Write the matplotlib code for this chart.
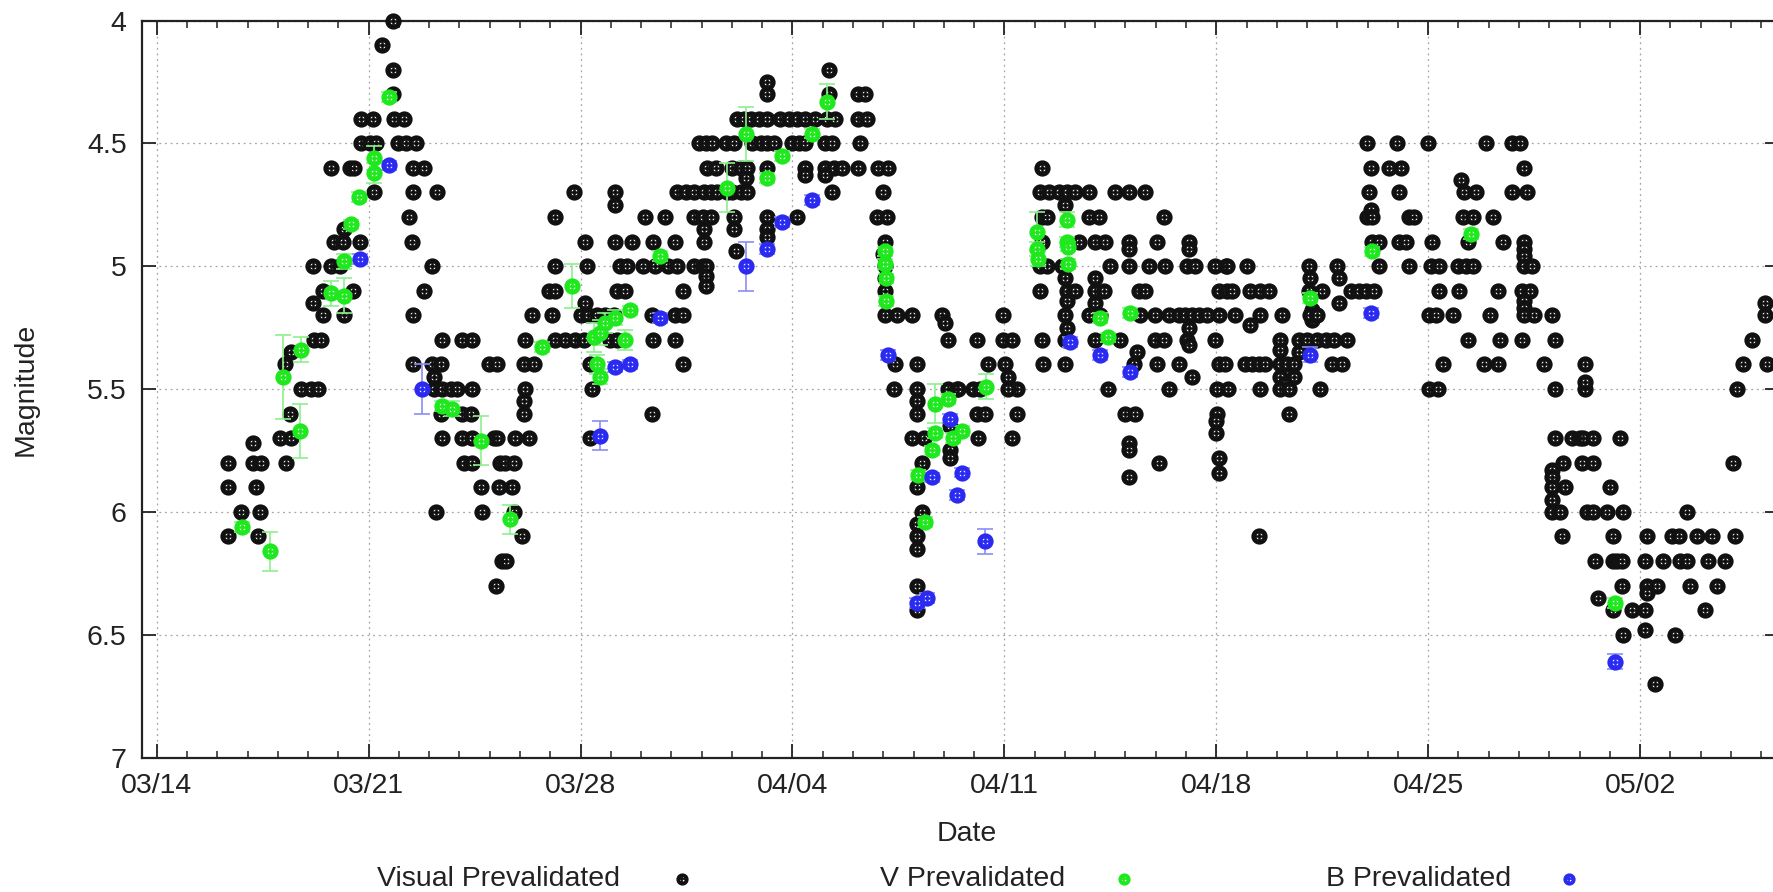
import matplotlib.pyplot as plt
import numpy as np

plt.rcParams['font.family'] = ['Liberation Sans', 'DejaVu Sans']

# days counted from 03/14
tick_days = [0, 7, 14, 21, 28, 35, 42, 49]
tick_labels = ['03/14', '03/21', '03/28', '04/04', '04/11', '04/18', '04/25', '05/02']
mag_ticks = [4, 4.5, 5, 5.5, 6, 6.5, 7]
mag_labels = ['4', '4.5', '5', '5.5', '6', '6.5', '7']

# visual estimates: (day, magnitude)
visual_obs = [
    (7.82, 4.0), (7.43, 4.1), (7.82, 4.2), (7.82, 4.3),
    (6.75, 4.4), (7.13, 4.4), (7.85, 4.4), (8.18, 4.4),
    (6.75, 4.5), (7.03, 4.5), (7.25, 4.5), (7.96, 4.5), (8.23, 4.5), (8.56, 4.5),
    (5.76, 4.6), (6.37, 4.6), (6.53, 4.6), (8.45, 4.6), (7.19, 4.7), (8.48, 4.7),
    (8.34, 4.8), (6.17, 4.85), (5.87, 4.9), (6.15, 4.9), (6.70, 4.9), (8.43, 4.9),
    (5.16, 5.0), (5.76, 5.0), (6.04, 5.0), (5.49, 5.1), (6.48, 5.1), (5.16, 5.15),
    (5.49, 5.2), (6.20, 5.2), (8.45, 5.2), (5.21, 5.3), (5.43, 5.3), (4.45, 5.35),
    (4.23, 5.4), (8.45, 5.4), (4.77, 5.5), (5.10, 5.5), (5.32, 5.5), (4.39, 5.6),
    (4.06, 5.7), (4.45, 5.7), (3.18, 5.72), (2.36, 5.8), (3.18, 5.8), (3.46, 5.8),
    (4.28, 5.8), (2.36, 5.9), (3.29, 5.9), (2.80, 6.0), (3.42, 6.0), (2.36, 6.1),
    (3.35, 6.1),
    (8.83, 4.6), (9.27, 4.7), (9.10, 5.0), (8.83, 5.1),
    (9.43, 5.3), (10.09, 5.3), (10.42, 5.3), (12.18, 5.3),
    (9.10, 5.4), (9.38, 5.4), (10.97, 5.4), (11.24, 5.4), (12.12, 5.4), (12.45, 5.4),
    (9.16, 5.45), (9.16, 5.5), (9.43, 5.5), (9.71, 5.5), (9.93, 5.5), (10.42, 5.5),
    (12.18, 5.5), (12.12, 5.55), (9.38, 5.6), (10.09, 5.6), (10.37, 5.6), (12.12, 5.6),
    (9.43, 5.7), (10.09, 5.7), (10.42, 5.7), (11.13, 5.7), (11.24, 5.7), (11.85, 5.7),
    (12.29, 5.7), (10.15, 5.8), (10.42, 5.8), (11.35, 5.8), (11.52, 5.8), (11.79, 5.8),
    (10.70, 5.9), (11.30, 5.9), (11.74, 5.9), (9.21, 6.0), (10.75, 6.0), (11.79, 6.0),
    (12.07, 6.1), (11.41, 6.2), (11.55, 6.2), (11.21, 6.3),
    (13.77, 4.7), (15.14, 4.7), (17.17, 4.7), (17.50, 4.7), (15.14, 4.75),
    (13.17, 4.8), (16.13, 4.8), (16.79, 4.8),
    (14.15, 4.9), (15.14, 4.9), (15.69, 4.9), (16.40, 4.9), (17.12, 4.9),
    (13.17, 5.0), (14.21, 5.0), (15.31, 5.0), (15.53, 5.0), (16.07, 5.0), (16.46, 5.0),
    (16.90, 5.0), (17.17, 5.0), (12.95, 5.1), (13.17, 5.1), (15.20, 5.1), (15.47, 5.1),
    (17.39, 5.1), (14.15, 5.15),
    (12.40, 5.2), (13.06, 5.2), (14.00, 5.2), (14.26, 5.2), (14.54, 5.2), (14.81, 5.2),
    (15.09, 5.2), (16.35, 5.2), (17.12, 5.2), (17.39, 5.2),
    (13.17, 5.3), (13.50, 5.3), (13.82, 5.3), (14.10, 5.3), (14.98, 5.3), (15.20, 5.3),
    (16.40, 5.3), (17.12, 5.3), (14.32, 5.4), (17.39, 5.4), (14.37, 5.5), (16.35, 5.6),
    (14.32, 5.7),
    (22.20, 4.2), (20.17, 4.25), (20.17, 4.3), (22.20, 4.3), (23.18, 4.3), (23.40, 4.3),
    (19.18, 4.4), (19.40, 4.4), (19.62, 4.4), (19.89, 4.4), (20.17, 4.4), (20.60, 4.4),
    (20.88, 4.4), (21.15, 4.4), (21.43, 4.4), (21.76, 4.4), (22.14, 4.4), (22.42, 4.4),
    (23.18, 4.4), (23.46, 4.4),
    (17.92, 4.5), (18.13, 4.5), (18.35, 4.5), (18.79, 4.5), (19.07, 4.5), (19.67, 4.5),
    (19.95, 4.5), (20.17, 4.5), (20.39, 4.5), (20.99, 4.5), (21.21, 4.5), (21.43, 4.5),
    (22.09, 4.5), (22.31, 4.5), (23.24, 4.5),
    (18.19, 4.6), (18.46, 4.6), (19.01, 4.6), (19.29, 4.6), (19.51, 4.6), (20.17, 4.6),
    (21.43, 4.6), (22.09, 4.6), (22.36, 4.6), (22.64, 4.6), (23.18, 4.6), (23.84, 4.6),
    (24.17, 4.6), (21.43, 4.63), (22.09, 4.63), (19.45, 4.64),
    (17.75, 4.7), (18.08, 4.7), (18.30, 4.7), (18.52, 4.7), (18.85, 4.7), (19.01, 4.7),
    (19.29, 4.7), (19.51, 4.7), (22.31, 4.7), (24.00, 4.7),
    (17.75, 4.8), (18.03, 4.8), (18.30, 4.8), (19.07, 4.8), (20.17, 4.8), (21.15, 4.8),
    (23.79, 4.8), (24.12, 4.8), (18.08, 4.85), (19.07, 4.85), (20.17, 4.85),
    (20.17, 4.88), (18.08, 4.9), (24.06, 4.9), (19.12, 4.94), (24.00, 4.95),
    (17.75, 5.0), (18.03, 5.0), (18.13, 5.0), (24.06, 5.0), (18.13, 5.04), (24.06, 5.05),
    (18.13, 5.08), (24.06, 5.1),
    (24.06, 5.2), (24.45, 5.2), (24.94, 5.2), (25.93, 5.2), (26.04, 5.23), (26.15, 5.3),
    (24.39, 5.4), (25.11, 5.4), (24.34, 5.5), (25.11, 5.5), (26.15, 5.5), (26.42, 5.5),
    (25.11, 5.55), (25.11, 5.6), (26.20, 5.65), (24.94, 5.7), (25.33, 5.7), (26.20, 5.75),
    (25.27, 5.8), (25.11, 5.9), (25.27, 6.0), (25.11, 6.05), (25.11, 6.1), (25.11, 6.15),
    (25.11, 6.3), (25.11, 6.4),
    (27.08, 5.3), (27.97, 5.3), (28.24, 5.3), (27.97, 5.2), (27.47, 5.4), (28.02, 5.4),
    (28.13, 5.45), (28.41, 5.5), (28.13, 5.5), (26.48, 5.5), (26.97, 5.5), (27.19, 5.5),
    (27.08, 5.6), (27.36, 5.6), (28.41, 5.6), (27.14, 5.7), (28.24, 5.7), (26.20, 5.78),
    (29.24, 4.6),
    (29.18, 4.7), (29.46, 4.7), (29.79, 4.7), (30.06, 4.7), (30.34, 4.7), (30.78, 4.7),
    (31.66, 4.7), (32.11, 4.7), (32.66, 4.7), (30.00, 4.75),
    (29.24, 4.8), (29.40, 4.8), (30.78, 4.8), (31.11, 4.8), (33.26, 4.8),
    (29.24, 4.9), (30.45, 4.9), (31.00, 4.9), (31.33, 4.9), (32.11, 4.9), (33.04, 4.9),
    (34.09, 4.9), (32.11, 4.93), (34.09, 4.93),
    (29.18, 5.0), (29.40, 5.0), (29.90, 5.0), (31.50, 5.0), (32.11, 5.0), (32.77, 5.0),
    (33.32, 5.0), (34.04, 5.0), (34.31, 5.0), (34.97, 5.0), (35.31, 5.0),
    (30.00, 5.05), (31.00, 5.05),
    (29.18, 5.1), (30.06, 5.1), (30.34, 5.1), (31.00, 5.1), (31.28, 5.1), (32.44, 5.1),
    (32.66, 5.1), (35.09, 5.1), (30.06, 5.14), (31.00, 5.15),
    (30.01, 5.2), (30.78, 5.2), (31.17, 5.2), (32.49, 5.2), (32.99, 5.2), (33.43, 5.2),
    (33.76, 5.2), (33.98, 5.2), (34.20, 5.2), (34.42, 5.2), (34.70, 5.2), (35.09, 5.2),
    (30.06, 5.25), (34.09, 5.25),
    (29.24, 5.3), (30.01, 5.3), (31.00, 5.3), (31.83, 5.3), (32.99, 5.3), (33.26, 5.3),
    (34.04, 5.3), (34.97, 5.3), (34.09, 5.32), (32.38, 5.35),
    (29.29, 5.4), (30.01, 5.4), (32.27, 5.4), (33.04, 5.4), (33.76, 5.4), (35.09, 5.4),
    (34.20, 5.45), (31.44, 5.5), (33.43, 5.5), (35.03, 5.5),
    (31.99, 5.6), (32.33, 5.6), (35.03, 5.6), (35.00, 5.63), (35.00, 5.68),
    (32.11, 5.72), (32.11, 5.75), (35.09, 5.78), (33.10, 5.8), (35.09, 5.84), (32.11, 5.86),
    (35.35, 5.0), (36.01, 5.0), (38.06, 5.0), (38.99, 5.0), (39.05, 5.05), (38.11, 5.05),
    (35.35, 5.1), (35.51, 5.1), (36.12, 5.1), (36.45, 5.1), (36.73, 5.1), (38.06, 5.1),
    (38.50, 5.1), (39.44, 5.1), (39.71, 5.1), (39.93, 5.1), (40.21, 5.1), (39.05, 5.15),
    (38.17, 5.18), (38.17, 5.22),
    (35.62, 5.2), (36.45, 5.2), (37.17, 5.2), (38.11, 5.2), (38.33, 5.2), (36.12, 5.24),
    (37.12, 5.3), (37.72, 5.3), (38.00, 5.3), (38.33, 5.3), (38.61, 5.3), (38.88, 5.3),
    (39.33, 5.3), (37.12, 5.34), (37.72, 5.35),
    (35.29, 5.4), (35.96, 5.4), (36.18, 5.4), (36.40, 5.4), (36.62, 5.4), (37.12, 5.4),
    (37.34, 5.4), (37.56, 5.4), (38.83, 5.4), (39.16, 5.4),
    (37.12, 5.45), (37.56, 5.45), (37.28, 5.48),
    (35.40, 5.5), (36.45, 5.5), (37.12, 5.5), (37.39, 5.5), (38.44, 5.5), (37.39, 5.6),
    (36.40, 6.1),
    (39.99, 4.5), (40.98, 4.5), (41.98, 4.5), (43.91, 4.5),
    (40.10, 4.6), (40.71, 4.6), (41.10, 4.6), (43.08, 4.65),
    (40.04, 4.7), (41.04, 4.7), (43.19, 4.7), (43.58, 4.7), (40.10, 4.77),
    (39.99, 4.8), (40.15, 4.8), (41.37, 4.8), (41.54, 4.8), (43.14, 4.8), (43.47, 4.8),
    (44.13, 4.8),
    (40.15, 4.9), (40.38, 4.9), (41.04, 4.9), (41.26, 4.9), (42.14, 4.9), (43.30, 4.9),
    (40.38, 5.0), (41.37, 5.0), (42.09, 5.0), (42.36, 5.0), (42.97, 5.0), (43.25, 5.0),
    (43.47, 5.0), (42.36, 5.1), (43.03, 5.1), (42.03, 5.2), (42.25, 5.2), (42.81, 5.2),
    (43.30, 5.3), (42.48, 5.4), (43.86, 5.4), (42.03, 5.5), (42.31, 5.5),
    (44.76, 4.5), (45.04, 4.5), (45.15, 4.6), (44.76, 4.7), (45.26, 4.7),
    (44.48, 4.9), (45.15, 4.9), (45.15, 4.93), (45.15, 4.96), (45.15, 5.0), (45.42, 5.0),
    (44.32, 5.1), (45.09, 5.1), (45.37, 5.1), (45.15, 5.14), (45.15, 5.17),
    (44.04, 5.2), (45.15, 5.2), (45.48, 5.2), (46.08, 5.2),
    (44.37, 5.3), (45.09, 5.3), (46.19, 5.3), (44.32, 5.4), (45.81, 5.4), (47.18, 5.4),
    (46.19, 5.5), (47.18, 5.5), (47.18, 5.47),
    (46.19, 5.7), (46.74, 5.7), (47.02, 5.7), (47.13, 5.7), (47.46, 5.7), (48.34, 5.7),
    (46.47, 5.8), (47.07, 5.8), (47.46, 5.8), (46.08, 5.83), (46.08, 5.86),
    (46.08, 5.9), (46.52, 5.9), (48.01, 5.9), (46.08, 5.95),
    (46.08, 6.0), (46.36, 6.0), (47.24, 6.0), (47.46, 6.0), (47.90, 6.0), (48.45, 6.0),
    (50.54, 6.0),
    (46.41, 6.1), (48.12, 6.1), (49.22, 6.1), (50.05, 6.1), (50.27, 6.1), (50.87, 6.1),
    (51.37, 6.1), (52.14, 6.1),
    (47.51, 6.2), (48.12, 6.2), (48.25, 6.2), (48.39, 6.2), (49.17, 6.2), (49.77, 6.2),
    (50.32, 6.2), (50.54, 6.2), (51.26, 6.2), (51.81, 6.2),
    (48.39, 6.3), (49.22, 6.3), (49.55, 6.3), (50.65, 6.3), (51.53, 6.3), (49.22, 6.33),
    (47.62, 6.35), (48.12, 6.4), (48.72, 6.4), (49.17, 6.4), (51.15, 6.4),
    (49.17, 6.48), (48.45, 6.5), (50.16, 6.5), (49.50, 6.7),
    (53.13, 5.15), (53.13, 5.2), (52.69, 5.3), (52.41, 5.4), (53.18, 5.4), (52.19, 5.5),
    (52.08, 5.8),
]

# V band: (day, magnitude, error)
v_obs = [
    (2.83, 6.06, 0.02), (3.73, 6.16, 0.08), (4.17, 5.45, 0.17), (4.77, 5.34, 0.05),
    (4.72, 5.67, 0.11), (5.76, 5.11, 0.05), (6.18, 5.12, 0.07), (6.18, 4.98, 0.03),
    (6.42, 4.83, 0.02), (6.67, 4.72, 0.02), (7.17, 4.56, 0.05), (7.17, 4.62, 0.04),
    (7.66, 4.31, 0.02),
    (9.43, 5.57, 0.02), (9.76, 5.58, 0.03), (10.70, 5.71, 0.10), (11.68, 6.03, 0.06),
    (12.73, 5.33, 0.02), (13.71, 5.08, 0.09), (14.43, 5.29, 0.06), (14.54, 5.40, 0.04),
    (14.65, 5.45, 0.03), (14.65, 5.27, 0.05), (14.81, 5.23, 0.04), (15.14, 5.21, 0.03),
    (15.47, 5.30, 0.04), (15.64, 5.18, 0.02), (16.62, 4.96, 0.02),
    (18.85, 4.68, 0.10), (19.45, 4.46, 0.11), (20.17, 4.64, 0.02), (20.66, 4.55, 0.02),
    (21.65, 4.46, 0.02), (22.14, 4.33, 0.07), (24.06, 4.94, 0.02), (24.06, 4.99, 0.02),
    (24.10, 5.05, 0.02), (24.10, 5.14, 0.02),
    (25.71, 5.56, 0.08), (26.15, 5.54, 0.02), (25.71, 5.68, 0.02), (25.60, 5.75, 0.02),
    (26.31, 5.70, 0.02), (25.16, 5.85, 0.02), (25.38, 6.04, 0.02), (26.59, 5.67, 0.02),
    (27.41, 5.49, 0.05),
    (29.07, 4.86, 0.08), (29.07, 4.93, 0.03), (29.10, 4.97, 0.03), (30.06, 4.81, 0.03),
    (30.06, 4.90, 0.02), (30.10, 4.92, 0.02), (30.10, 4.99, 0.02), (31.17, 5.21, 0.02),
    (31.42, 5.29, 0.02), (32.16, 5.19, 0.02),
    (38.11, 5.13, 0.02), (40.15, 4.94, 0.02), (43.41, 4.87, 0.02), (48.17, 6.37, 0.02),
]

# B band: (day, magnitude, error)
b_obs = [
    (7.68, 4.59, 0.02), (6.70, 4.97, 0.02), (8.77, 5.50, 0.10), (14.65, 5.69, 0.06),
    (15.14, 5.41, 0.02), (15.64, 5.40, 0.02), (16.62, 5.21, 0.02), (19.45, 5.00, 0.10),
    (20.17, 4.93, 0.02), (20.66, 4.82, 0.02), (21.65, 4.73, 0.02), (24.17, 5.36, 0.02),
    (26.20, 5.62, 0.02), (25.60, 5.86, 0.02), (25.11, 6.37, 0.02), (25.44, 6.35, 0.02),
    (26.59, 5.84, 0.02), (26.42, 5.93, 0.02), (27.36, 6.12, 0.05), (30.17, 5.31, 0.02),
    (31.17, 5.36, 0.02), (32.16, 5.43, 0.02), (38.11, 5.36, 0.03), (40.10, 5.19, 0.02),
    (48.17, 6.61, 0.03),
]

series_names = ['Visual Prevalidated', 'V Prevalidated', 'B Prevalidated']
colors = ['#111111', '#1fe81f', '#2a2af0']
bar_colors = ['#111111', '#8cf08c', '#8c8cf5']

fig = plt.figure(figsize=(17.73, 8.92), dpi=100)
ax = fig.add_axes([0.0801, 0.1507, 0.9233, 0.8263])


def ring_marks(x, y, color, ms=8.2, mew=3.5, cross=5.6, **kw):
    # gnuplot style circle with a cross inside
    ax.plot(x, y, ls='none', marker='o', ms=ms, mfc='white', mec=color, mew=mew,
            clip_on=False, **kw)
    ax.plot(x, y, ls='none', marker='+', ms=cross, mec=color, mew=1.8,
            clip_on=False, **kw)


vx, vy = np.array(visual_obs).T
ring_marks(vx, vy, colors[0], zorder=3)

for obs, col, bcol in [(v_obs, colors[1], bar_colors[1]), (b_obs, colors[2], bar_colors[2])]:
    d, m, e = np.array(obs).T
    ax.errorbar(d, m, yerr=e, fmt='none', ecolor=bcol, elinewidth=1.2,
                capsize=6, capthick=1.2, zorder=4)
    ring_marks(d, m, col, zorder=5)

ax.set_xlim(-0.486, 53.59)
ax.set_ylim(7, 4)
ax.set_xticks(tick_days)
ax.set_xticklabels(tick_labels)
ax.set_xticks(np.arange(0, 54, 1), minor=True)
ax.set_yticks(mag_ticks)
ax.set_yticklabels(mag_labels)

ax.tick_params(which='both', direction='in', top=True, right=True, colors='#222222')
ax.tick_params(which='major', length=10, width=1.3, labelsize=20.5, pad=11)
ax.tick_params(which='minor', length=5, width=1.1)
ax.grid(True, which='major', ls=(0, (1.5, 3)), color='#a5a5a5', lw=0.9)
for s in ax.spines.values():
    s.set_linewidth(1.6)
    s.set_color('#222222')

ax.set_xlabel('Date', fontsize=20.5, color='#222222')
ax.xaxis.set_label_coords(0.5454, 0.0798, transform=fig.transFigure)
ax.set_ylabel('Magnitude', fontsize=20.5, color='#222222')
ax.yaxis.set_label_coords(0.0218, 0.563, transform=fig.transFigure)

# legend row along the bottom
text_right = [0.3497, 0.6007, 0.8522]
mark_x = [0.3847, 0.6339, 0.8850]
leg_y = 0.0146
for name, tx, mx, col in zip(series_names, text_right, mark_x, colors):
    fig.text(tx, leg_y, name, ha='right', va='center', fontsize=20.5, color='#222222')
    fig.lines.append(plt.Line2D([mx], [leg_y], transform=fig.transFigure, ls='none',
                                marker='o', ms=6, mfc='white', mec=col, mew=2.8))
    fig.lines.append(plt.Line2D([mx], [leg_y], transform=fig.transFigure, ls='none',
                                marker='+', ms=4.5, mec=col, mew=1.3))

fig.savefig('out.png', dpi=100)
